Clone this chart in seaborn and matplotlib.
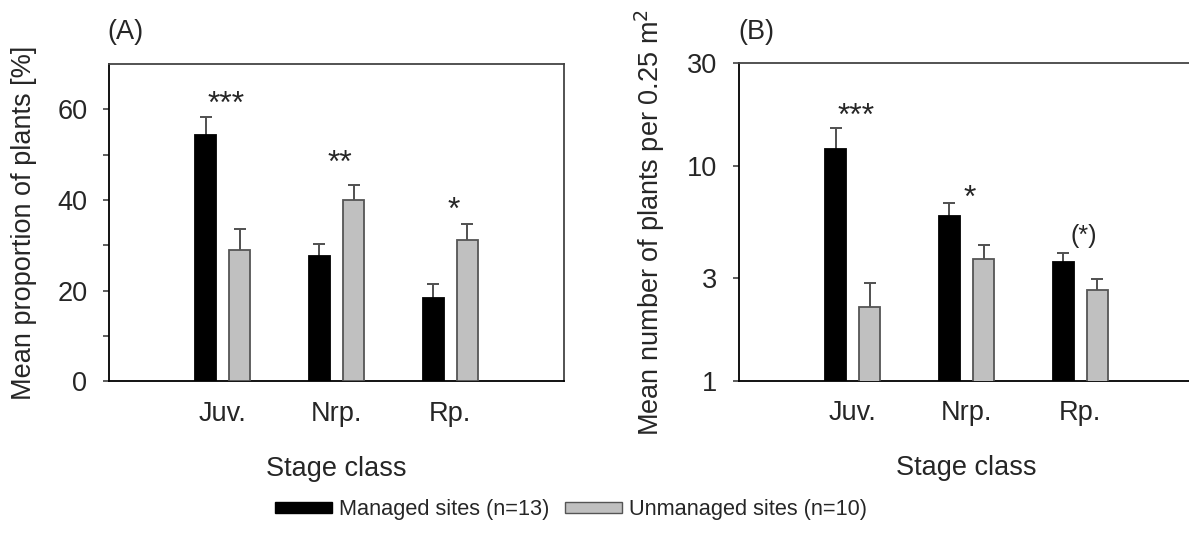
import matplotlib
matplotlib.use("Agg")
import matplotlib.pyplot as plt
import matplotlib.patches as mpatches
import matplotlib.ticker as mticker
import seaborn as sns
import pandas as pd
import numpy as np

# ---------------- data ----------------
stages = ["Juv.", "Nrp.", "Rp."]
groups = ["Managed sites (n=13)", "Unmanaged sites (n=10)"]

prop_managed = [54.3, 27.6, 18.3]
prop_managed_se = [4.0, 2.6, 3.2]
prop_unmanaged = [28.9, 40.1, 31.1]
prop_unmanaged_se = [4.7, 3.1, 3.7]

dens_managed = [12.0, 5.84, 3.56]
dens_managed_err = [3.0, 0.85, 0.38]
dens_unmanaged = [2.21, 3.67, 2.63]
dens_unmanaged_err = [0.65, 0.62, 0.33]

sig_a = ["***", "**", "*"]
sig_a_y = [59.3, 46.2, 35.9]
sig_b = ["***", "*", "(*)"]
sig_b_y = [15.5, 6.45, 4.37]

yticks_a = [0, 20, 40, 60]
yticks_b = [1, 3, 10, 30]
ytick_labels_b = ["1", "3", "10", "30"]

# ---------------- style ----------------
sns.set_style("ticks")
plt.rcParams["font.family"] = ["Liberation Sans", "DejaVu Sans"]
plt.rcParams["font.size"] = 19.5

col_m = "#000000"
col_u = "#c0c0c0"
edge_u = "#555555"
err_col = "#505050"

fig = plt.figure(figsize=(11.89, 5.33), dpi=100)
W, H = 1189, 533
axA = fig.add_axes([109 / W, 1 - 381.3 / H, 455 / W, 317.3 / H])
axB = fig.add_axes([739 / W, 1 - 380.7 / H, 455 / W, 317.4 / H])


def make_df(m, u):
    return pd.DataFrame({
        "stage": stages * 2,
        "group": [groups[0]] * 3 + [groups[1]] * 3,
        "value": list(m) + list(u),
    })


def draw(ax, m, m_err, u, u_err):
    df = make_df(m, u)
    sns.barplot(data=df, x="stage", y="value", hue="group", order=stages,
                hue_order=groups, palette=[col_m, col_u], width=0.6,
                gap=0.38, errorbar=None, legend=False, ax=ax, saturation=1)
    for cont, err, ec in zip(ax.containers, [m_err, u_err], [col_m, edge_u]):
        xs, ys = [], []
        for p in cont.patches:
            p.set_edgecolor(ec)
            p.set_linewidth(1.3)
            p.set_zorder(3)
            xs.append(p.get_x() + p.get_width() / 2)
            ys.append(p.get_y() + p.get_height())
        _, caps, _ = ax.errorbar(xs, ys, yerr=[np.zeros(len(err)), err],
                                 fmt="none", ecolor=err_col, elinewidth=1.4,
                                 capsize=4.5, capthick=1.4, zorder=2)
        caps[0].set_visible(False)
    ax.set_xlim(-1, 3)
    ax.set_xlabel("Stage class", labelpad=21)
    ax.tick_params(axis="x", length=0, pad=14)
    ax.tick_params(axis="y", which="both", length=4.5, width=1.1,
                   direction="out", pad=11, color="#333333")
    for s in ax.spines.values():
        s.set_linewidth(1.3)
    ax.spines["top"].set_color("#444444")
    ax.spines["right"].set_color("#444444")
    ax.spines["left"].set_color("#000000")
    ax.spines["bottom"].set_color("#000000")


draw(axA, prop_managed, prop_managed_se, prop_unmanaged, prop_unmanaged_se)
axA.set_ylim(0, 70)
axA.set_yticks(yticks_a)
axA.set_yticks([10, 30, 50], minor=True)
axA.set_ylabel("Mean proportion of plants [%]")
axA.yaxis.set_label_coords(-0.158, 0.5)
for i, (s, y) in enumerate(zip(sig_a, sig_a_y)):
    axA.text(i + 0.03, y, s, ha="center", va="baseline", fontsize=23)
axA.text(-0.004, 1.1, "(A)", transform=axA.transAxes, ha="left", va="center")

draw(axB, dens_managed, dens_managed_err, dens_unmanaged, dens_unmanaged_err)
axB.set_yscale("log")
axB.set_ylim(1, 30)
axB.set_yticks(yticks_b)
axB.set_yticklabels(ytick_labels_b)
axB.yaxis.set_minor_locator(mticker.NullLocator())
axB.set_ylabel("Mean number of plants per 0.25 m$^{2}$")
axB.yaxis.set_label_coords(-0.158, 0.5)
for i, (s, y) in enumerate(zip(sig_b, sig_b_y)):
    axB.text(i + 0.03, y, s, ha="center", va="baseline",
             fontsize=(18 if s.startswith("(") else 23))
axB.text(-0.002, 1.1, "(B)", transform=axB.transAxes, ha="left", va="center")

handles = [
    mpatches.Patch(facecolor=col_m, edgecolor=col_m, linewidth=1.0, label=groups[0]),
    mpatches.Patch(facecolor=col_u, edgecolor=edge_u, linewidth=1.0, label=groups[1]),
]
fig.legend(handles=handles, loc="center", bbox_to_anchor=(571 / W, 1 - 510 / H),
           ncol=2, frameon=False, handlelength=2.6, handleheight=0.42,
           handletextpad=0.3, columnspacing=0.75,
           prop={"size": 15.7})

fig.savefig("out.png", dpi=100)
